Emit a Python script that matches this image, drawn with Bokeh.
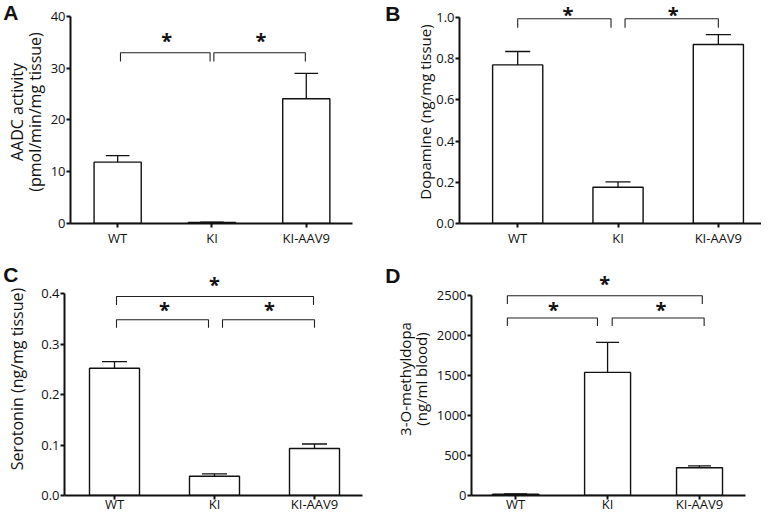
from bokeh.plotting import figure
from bokeh.models import Range1d, FixedTicker, LinearAxis, ColumnDataSource
from bokeh.layouts import column, row
from bokeh.embed import file_html
from bokeh.resources import INLINE
from bokeh.core.properties import value

# ---------------- data ----------------
categories = ["WT", "KI", "KI-AAV9"]

aadc_mean = [11.85, 0.2, 24.1]
aadc_sem = [1.25, 0.05, 4.9]
aadc_ticks = [0, 10, 20, 30, 40]
aadc_tick_labels = ["0", "10", "20", "30", "40"]

dopamine_mean = [0.770, 0.176, 0.869]
dopamine_sem = [0.065, 0.026, 0.048]
dopamine_ticks = [0.0, 0.2, 0.4, 0.6, 0.8, 1.0]
dopamine_tick_labels = ["0.0", "0.2", "0.4", "0.6", "0.8", "1.0"]

serotonin_mean = [0.252, 0.038, 0.093]
serotonin_sem = [0.013, 0.005, 0.009]
serotonin_ticks = [0.0, 0.1, 0.2, 0.3, 0.4]
serotonin_tick_labels = ["0.0", "0.1", "0.2", "0.3", "0.4"]

omd_mean = [17, 1537, 346]
omd_sem = [4, 374, 25]
omd_ticks = [0, 500, 1000, 1500, 2000, 2500]
omd_tick_labels = ["0", "500", "1000", "1500", "2000", "2500"]

# significance brackets: start, end, level, drop ; stars: x, y
aadc_brackets = [(0.03, 0.98, 33.0, 31.3), (1.02, 1.99, 33.0, 31.3)]
aadc_stars = [(0.52, 35.6), (1.52, 35.6)]
dopamine_brackets = [(0.0, 0.93, 0.994, 0.95), (1.07, 2.0, 0.994, 0.95)]
dopamine_stars = [(0.5, 1.02), (1.55, 1.02)]
serotonin_brackets = [(0.02, 1.99, 0.394, 0.377), (0.02, 0.94, 0.348, 0.332), (1.08, 2.0, 0.348, 0.332)]
serotonin_stars = [(1.0, 0.42), (0.5, 0.37), (1.55, 0.37)]
omd_brackets = [(-0.09, 2.03, 2493, 2390), (-0.09, 0.89, 2216, 2115), (1.05, 2.05, 2216, 2115)]
omd_stars = [(0.97, 2663), (0.41, 2338), (1.58, 2338)]

INK = "#111111"
FONT = "Open Sans"
STAR_DROP = 1  # px: visual centre of "*" sits just above the text's middle line


def style_axis(ax):
    ax.axis_line_width = 2
    ax.axis_line_color = INK
    ax.major_tick_line_width = 2
    ax.major_tick_line_color = INK
    ax.major_tick_out = 4
    ax.major_tick_in = 0
    ax.minor_tick_line_color = None


def panel(letter, means, sems, ticks, tick_labels, ylabel, brackets, stars,
          width, height, left, right, top, bottom, x0, x1, ytop, ybound,
          ylabel_size, ylabel_lh, ylabel_standoff, xlab_standoff, letter_drop, letter_standoff):
    p = figure(width=width, height=height, output_backend="svg", toolbar_location=None,
               x_range=Range1d(x0, x1), y_range=Range1d(0, ytop),
               min_border_left=left, min_border_right=right,
               min_border_top=top, min_border_bottom=bottom)
    p.outline_line_color = None
    p.grid.visible = False
    p.background_fill_color = "white"
    p.border_fill_color = "white"

    fh = height - top - bottom
    ppy = fh / ytop

    idx = list(range(len(categories)))
    tops = [m + s for m, s in zip(means, sems)]
    src = ColumnDataSource(dict(x=idx, m=means, t=tops,
                                cl=[i - 0.125 for i in idx], cr=[i + 0.125 for i in idx]))
    p.segment(x0="x", y0="m", x1="x", y1="t", source=src, line_color=INK, line_width=1.3)
    p.segment(x0="cl", y0="t", x1="cr", y1="t", source=src, line_color=INK, line_width=1.3)
    p.vbar(x="x", top="m", bottom=0, width=0.5, source=src,
           fill_color="white", line_color=INK, line_width=1.4)

    xs = [[b[0], b[0], b[1], b[1]] for b in brackets]
    ys = [[b[3], b[2], b[2], b[3]] for b in brackets]
    p.multi_line(xs=xs, ys=ys, line_color="#222222", line_width=1.1)
    p.text(x=[s[0] for s in stars], y=[s[1] - STAR_DROP / ppy for s in stars],
           text=["*"] * len(stars),
           text_font=value(FONT), text_font_style="bold", text_font_size="20px",
           text_align="center", text_baseline="middle", text_color=INK)

    # category axis
    p.xaxis.ticker = FixedTicker(ticks=idx)
    p.xaxis.major_label_overrides = {i: c for i, c in zip(idx, categories)}
    p.xaxis.major_label_text_font = FONT
    p.xaxis.major_label_text_font_size = "13px"
    p.xaxis.major_label_text_color = INK
    p.xaxis.major_label_standoff = xlab_standoff
    style_axis(p.xaxis)

    # value axis
    p.yaxis.ticker = FixedTicker(ticks=ticks)
    p.yaxis.major_label_overrides = {t: l for t, l in zip(ticks, tick_labels)}
    p.yaxis.bounds = (0, ybound)
    style_axis(p.yaxis)
    p.yaxis.major_label_text_font = FONT
    p.yaxis.major_label_text_font_size = "13px"
    p.yaxis.major_label_text_color = INK
    p.yaxis.major_label_standoff = 1
    p.yaxis.axis_label = ylabel
    p.yaxis.axis_label_text_font = FONT
    p.yaxis.axis_label_text_font_style = "normal"
    p.yaxis.axis_label_text_font_size = ylabel_size
    p.yaxis.axis_label_text_line_height = ylabel_lh
    p.yaxis.axis_label_text_color = INK
    p.yaxis.axis_label_standoff = ylabel_standoff

    # panel letter: the only tick label of an outer, invisible left axis
    ly = ytop - letter_drop / ppy
    lax = LinearAxis(ticker=FixedTicker(ticks=[ly]),
                     major_label_overrides={ly: letter},
                     axis_line_color=None, major_tick_line_color=None,
                     minor_tick_line_color=None, major_tick_out=0, major_tick_in=0,
                     major_label_standoff=letter_standoff,
                     major_label_text_font="Liberation Sans",
                     major_label_text_font_style="bold",
                     major_label_text_font_size="21px",
                     major_label_text_color=INK)
    p.add_layout(lax, "left")
    return p


pa = panel("A", aadc_mean, aadc_sem, aadc_ticks, aadc_tick_labels,
           "AADC activity\n(pmol/min/mg tissue)", aadc_brackets, aadc_stars,
           382, 262, 56, 30, 0, 39, -0.5, 2.49, 43.09, 40, "16px", 0.78, 2, 1, 11.5, -15)
pb = panel("B", dopamine_mean, dopamine_sem, dopamine_ticks, dopamine_tick_labels,
           "Dopamine (ng/mg tissue)", dopamine_brackets, dopamine_stars,
           379, 262, 69, 0, 0, 39, -0.58, 2.43, 1.0825, 1.0, "15px", 1.0, -2, 1, 10, 12)
pc = panel("C", serotonin_mean, serotonin_sem, serotonin_ticks, serotonin_tick_labels,
           "Serotonin (ng/mg tissue)", serotonin_brackets, serotonin_stars,
           382, 253, 55, 20, 0, 20, -0.5, 2.48, 0.4614, 0.4, "16px", 1.0, 10, -5, 11.5, -15)
pd = panel("D", omd_mean, omd_sem, omd_ticks, omd_tick_labels,
           "3-O-methyldopa\n(ng/ml blood)", omd_brackets, omd_stars,
           379, 253, 77, 16, 0, 20, -0.48, 2.5, 2909, 2500, "15px", 0.8, 3, -5, 10.5, -9)

layout = column(row(pa, pb), row(pc, pd))
open("out.html", "w").write(file_html(layout, INLINE))
